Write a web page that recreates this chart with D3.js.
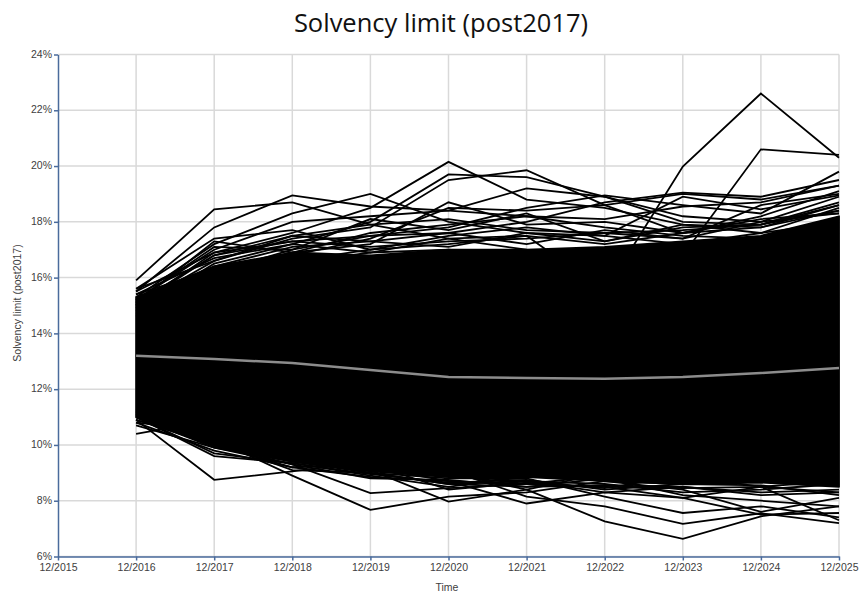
<!DOCTYPE html>
<html>
<head>
<meta charset="utf-8">
<script src="https://cdn.jsdelivr.net/npm/d3@7"></script>
<style>
  body { margin: 0; background: #fff; }
  text { font-family: 'Liberation Sans', Arial, sans-serif; }
</style>
</head>
<body>
<div id="chart"></div>
<script>
// data (values in %)
var years = [2016, 2017, 2018, 2019, 2020, 2021, 2022, 2023, 2024, 2025]
var xTickYears = [2015, 2016, 2017, 2018, 2019, 2020, 2021, 2022, 2023, 2024, 2025]
var xTickLabels = ['12/2015', '12/2016', '12/2017', '12/2018', '12/2019', '12/2020', '12/2021', '12/2022', '12/2023', '12/2024', '12/2025']
var yTicks = [6, 8, 10, 12, 14, 16, 18, 20, 22, 24]

// dense part of the fan of scenarios
var bandTop = [15.3, 16.4, 16.9, 16.8, 17.0, 17.0, 17.1, 17.3, 17.5, 18.2]
var bandBottom = [11.0, 9.95, 9.4, 9.05, 8.85, 8.85, 8.7, 8.6, 8.65, 8.5]

// mean scenario (grey)
var meanLine = [13.2, 13.08, 12.94, 12.69, 12.44, 12.4, 12.37, 12.44, 12.58, 12.76]

// scenarios sticking out above the band
var upperPaths = [
  [15.9, 18.45, 18.7, 17.9, 17.4, 17.0, 16.8, 17.0, 17.2, 17.6],
  [15.5, 17.8, 18.95, 18.55, 18.4, 18.2, 17.8, 17.5, 17.4, 17.8],
  [15.3, 17.2, 18.3, 19.0, 18.0, 17.6, 17.5, 17.2, 17.6, 18.0],
  [15.0, 16.9, 17.6, 18.5, 20.15, 18.8, 18.5, 17.9, 17.8, 18.4],
  [14.8, 16.5, 17.2, 18.0, 19.7, 19.6, 18.9, 18.0, 17.9, 18.6],
  [15.0, 16.6, 17.4, 17.8, 19.5, 19.85, 18.6, 17.6, 18.1, 18.3],
  [15.2, 17.0, 18.0, 18.2, 18.4, 19.2, 18.9, 18.2, 18.0, 18.9],
  [14.9, 16.2, 16.8, 17.4, 18.5, 18.4, 18.6, 19.0, 18.8, 19.3],
  [14.6, 16.0, 16.6, 17.0, 17.2, 17.5, 15.5, 19.98, 22.6, 20.3],
  [14.7, 15.8, 16.5, 16.9, 17.0, 16.8, 16.5, 16.8, 20.6, 20.4],
  [15.1, 16.8, 17.3, 17.5, 17.8, 18.5, 18.95, 18.6, 18.3, 19.8],
  [14.9, 16.4, 17.1, 17.3, 17.6, 18.0, 18.7, 19.05, 18.9, 19.5],
  [15.4, 16.3, 16.9, 17.6, 17.9, 18.2, 18.1, 18.55, 18.7, 19.3],
  [15.6, 17.4, 17.7, 17.0, 17.5, 17.8, 17.5, 18.9, 18.45, 18.95],
  [15.0, 16.8, 17.5, 17.9, 18.1, 17.7, 17.6, 17.4, 18.6, 19.0],
  [15.3, 16.2, 17.0, 18.1, 17.7, 18.3, 17.3, 17.8, 17.9, 18.7],
  [15.1, 17.3, 16.9, 17.2, 18.7, 17.9, 18.0, 17.6, 18.2, 19.1],
  [15.5, 16.9, 17.3, 17.1, 17.3, 17.4, 17.6, 17.7, 17.9, 18.4],
  [15.6, 16.6, 17.5, 17.3, 17.1, 17.6, 17.3, 17.9, 17.6, 18.5],
  [15.2, 17.1, 17.0, 17.5, 17.6, 17.2, 17.7, 17.4, 18.0, 18.3],
  [15.4, 16.7, 17.2, 16.9, 17.4, 17.5, 17.2, 17.6, 17.8, 18.6]
]

// scenarios sticking out below the band
var lowerPaths = [
  [10.4, 10.9, 10.6, 10.2, 9.9, 9.8, 9.7, 9.5, 9.3, 9.2],
  [10.9, 8.75, 9.05, 9.4, 9.6, 9.5, 9.4, 9.6, 9.5, 9.4],
  [11.0, 9.6, 9.35, 8.9, 8.5, 8.9, 9.0, 9.2, 9.1, 9.0],
  [11.2, 10.2, 8.9, 7.67, 8.15, 8.3, 8.7, 8.6, 8.8, 9.0],
  [11.1, 10.0, 9.3, 8.27, 8.45, 8.6, 8.9, 8.7, 8.9, 8.8],
  [11.3, 10.3, 9.6, 9.1, 7.97, 8.4, 9.0, 8.8, 9.0, 8.9],
  [11.0, 10.1, 9.5, 9.2, 8.7, 7.9, 8.3, 8.1, 8.5, 8.7],
  [11.1, 10.2, 9.8, 9.3, 9.0, 8.4, 7.26, 6.63, 7.44, 7.8],
  [11.2, 10.4, 9.7, 9.4, 9.1, 8.15, 7.8, 7.17, 7.55, 7.2],
  [11.0, 10.0, 9.5, 9.0, 8.8, 8.8, 8.15, 7.56, 7.8, 7.4],
  [11.1, 10.3, 9.6, 9.2, 8.9, 8.6, 8.5, 8.1, 7.5, 7.56],
  [11.2, 10.1, 9.9, 9.5, 9.2, 9.0, 8.7, 8.4, 7.6, 8.1],
  [11.0, 9.9, 9.4, 9.0, 8.6, 8.5, 8.8, 8.2, 8.0, 7.8],
  [10.8, 10.5, 9.5, 9.1, 8.9, 8.7, 8.3, 8.5, 8.2, 8.3],
  [10.9, 10.0, 9.2, 9.3, 8.4, 8.65, 8.45, 8.9, 8.5, 7.3],
  [10.8, 9.8, 9.2, 8.85, 8.7, 8.6, 8.5, 8.45, 8.5, 8.3],
  [10.9, 10.1, 9.1, 9.0, 8.6, 8.7, 8.6, 8.3, 8.4, 8.6],
  [10.7, 9.9, 9.3, 8.8, 8.75, 8.5, 8.55, 8.5, 8.3, 8.4],
  [11.0, 9.7, 9.35, 8.95, 8.65, 8.75, 8.4, 8.6, 8.55, 8.2]
]

var width = 861
var height = 596

var margin = {
  top: 54.5,
  left: 58,
  bottom: 39.5,
  right: 22
}

var svg = d3.select('#chart').append('svg')
  .attr('width', width)
  .attr('height', height)

var x = d3.scaleLinear()
  .domain([2015, 2025])
  .range([margin.left, width - margin.right])

var y = d3.scaleLinear()
  .domain([6, 24])
  .range([height - margin.bottom, margin.top])

// grid
svg.append('g')
  .selectAll('line')
  .data(yTicks)
  .enter().append('line')
  .attr('x1', margin.left)
  .attr('x2', width - margin.right)
  .attr('y1', d => y(d))
  .attr('y2', d => y(d))
  .attr('stroke', '#d9d9d9')
  .attr('stroke-width', 1.5)

svg.append('g')
  .selectAll('line')
  .data(xTickYears.slice(1))
  .enter().append('line')
  .attr('x1', d => x(d))
  .attr('x2', d => x(d))
  .attr('y1', margin.top)
  .attr('y2', height - margin.bottom)
  .attr('stroke', '#d9d9d9')
  .attr('stroke-width', 1.5)

// dense band
var area = d3.area()
  .x((d, i) => x(years[i]))
  .y0((d, i) => y(bandBottom[i]))
  .y1(d => y(d))

svg.append('path')
  .datum(bandTop)
  .attr('d', area)
  .attr('fill', '#000')
  .attr('stroke', '#000')
  .attr('stroke-width', 1.8)
  .attr('stroke-linejoin', 'round')

var line = d3.line()
  .x((d, i) => x(years[i]))
  .y(d => y(d))

svg.append('g')
  .selectAll('path')
  .data(upperPaths.concat(lowerPaths))
  .enter().append('path')
  .attr('d', line)
  .attr('fill', 'none')
  .attr('stroke', '#000')
  .attr('stroke-width', 1.8)

svg.append('path')
  .datum(meanLine)
  .attr('d', line)
  .attr('fill', 'none')
  .attr('stroke', '#8c8c8c')
  .attr('stroke-width', 2.5)

// axes
var axisColor = '#4a6b9c'

var yAxis = svg.append('g')
  .attr('transform', 'translate(' + margin.left + ',0)')
  .call(d3.axisLeft(y).tickValues(yTicks).tickFormat(d => d + '%').tickSize(4).tickSizeOuter(0))
yAxis.select('.domain').attr('stroke', axisColor).attr('stroke-width', 1.5)
yAxis.selectAll('.tick line').attr('stroke', axisColor).attr('stroke-width', 1.5)
yAxis.selectAll('.tick text')
  .attr('fill', '#404040')
  .style('font-size', '10.5px')
  .attr('dx', 1)
  .attr('dy', '0.25em')

var xAxis = svg.append('g')
  .attr('transform', 'translate(0,' + (height - margin.bottom) + ')')
  .call(d3.axisBottom(x).tickValues(xTickYears).tickFormat((d, i) => xTickLabels[i]).tickSize(4).tickSizeOuter(0))
xAxis.select('.domain').attr('stroke', axisColor).attr('stroke-width', 1.5)
xAxis.selectAll('.tick line').attr('stroke', axisColor).attr('stroke-width', 1.5)
xAxis.selectAll('.tick text')
  .attr('fill', '#404040')
  .style('font-size', '10.5px')
  .attr('y', 7)

svg.append('text')
  .attr('x', 447)
  .attr('y', 591)
  .attr('text-anchor', 'middle')
  .attr('fill', '#404040')
  .style('font-size', '10.5px')
  .text('Time')

svg.append('text')
  .attr('transform', 'translate(21,' + 303 + ') rotate(-90)')
  .attr('text-anchor', 'middle')
  .attr('fill', '#404040')
  .style('font-size', '10.5px')
  .text('Solvency limit (post2017)')

svg.append('text')
  .attr('x', 441)
  .attr('y', 32)
  .attr('text-anchor', 'middle')
  .attr('fill', '#111')
  .style('font-family', "'Open Sans', sans-serif")
  .style('font-size', '25.5px')
  .text('Solvency limit (post2017)')
</script>
</body>
</html>
